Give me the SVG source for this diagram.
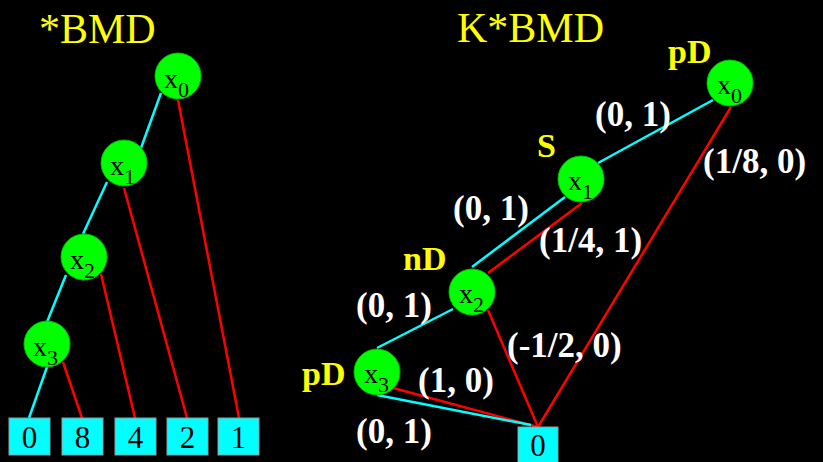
<svg xmlns="http://www.w3.org/2000/svg" width="823" height="462" viewBox="0 0 823 462">
<style>
.bg{fill:#000}
.cy{stroke:#00FFFF;stroke-width:2.5;fill:none}
.rd{stroke:#FF0000;stroke-width:2.5;fill:none}
.node{fill:#00FF00;stroke:#00C000;stroke-width:1}
.nt{font-family:"Liberation Serif","Times New Roman",serif;font-size:28px;fill:#000}
.sub{font-size:22px}
.box{fill:#00FFFF;stroke:#9a9a9a;stroke-width:1}
.bt{font-family:"Liberation Serif","Times New Roman",serif;font-size:31px;fill:#000;text-anchor:middle}
.title{font-family:"Liberation Serif","Times New Roman",serif;font-size:42px;fill:#FFFF00}
.lbl{font-family:"Liberation Serif","Times New Roman",serif;font-size:35px;font-weight:bold;fill:#FFFFFF}
.yl{font-family:"Liberation Serif","Times New Roman",serif;font-size:34px;font-weight:bold;fill:#FFFF00}
</style>
<rect class="bg" x="0" y="0" width="823" height="462"/>
<text class="title" x="39" y="43">*BMD</text>
<text class="title" x="457" y="42">K*BMD</text>
<g id="connectors">
<line class="cy" x1="161" y1="93" x2="141" y2="148"/>
<line class="rd" x1="178" y1="100" x2="239" y2="418"/>
<line class="cy" x1="107" y1="182" x2="83" y2="234"/>
<line class="rd" x1="124" y1="188" x2="187" y2="418"/>
<line class="cy" x1="66" y1="275" x2="47" y2="322"/>
<line class="rd" x1="101" y1="274" x2="135" y2="418"/>
<line class="cy" x1="47" y1="367" x2="29" y2="418"/>
<line class="rd" x1="63" y1="362" x2="82" y2="418"/>
<line class="cy" x1="713" y1="100" x2="598" y2="163"/>
<line class="rd" x1="731" y1="107" x2="538" y2="427"/>
<line class="cy" x1="565" y1="197" x2="472" y2="267"/>
<line class="rd" x1="582" y1="203" x2="488" y2="273"/>
<line class="cy" x1="453" y1="309" x2="377" y2="348"/>
<line class="rd" x1="488" y1="310" x2="538" y2="427"/>
<line class="rd" x1="393" y1="388" x2="538" y2="427"/>
<line class="cy" x1="377" y1="395" x2="531" y2="425"/>
</g>
<g id="L_x0"><circle class="node" cx="178" cy="76" r="23"/><text class="nt" x="164" y="88">x<tspan class="sub" dy="9">0</tspan></text></g>
<g id="L_x1"><circle class="node" cx="124" cy="163" r="23"/><text class="nt" x="110" y="175">x<tspan class="sub" dy="9">1</tspan></text></g>
<g id="L_x2"><circle class="node" cx="84" cy="257" r="23"/><text class="nt" x="70" y="269">x<tspan class="sub" dy="9">2</tspan></text></g>
<g id="L_x3"><circle class="node" cx="47" cy="344" r="23"/><text class="nt" x="33" y="356">x<tspan class="sub" dy="9">3</tspan></text></g>
<g id="L_t0"><rect class="box" x="9" y="418" width="41" height="37"/><text class="bt" x="29.5" y="448">0</text></g>
<g id="L_t8"><rect class="box" x="62" y="418" width="41" height="37"/><text class="bt" x="82.5" y="448">8</text></g>
<g id="L_t4"><rect class="box" x="115" y="418" width="41" height="37"/><text class="bt" x="135.5" y="448">4</text></g>
<g id="L_t2"><rect class="box" x="167" y="418" width="41" height="37"/><text class="bt" x="187.5" y="448">2</text></g>
<g id="L_t1"><rect class="box" x="218" y="418" width="41" height="37"/><text class="bt" x="238.5" y="448">1</text></g>
<g id="R_x0"><circle class="node" cx="730" cy="83" r="23"/><text class="nt" x="717" y="94">x<tspan class="sub" dy="9">0</tspan></text></g>
<g id="R_x1"><circle class="node" cx="581" cy="179" r="23"/><text class="nt" x="568" y="190">x<tspan class="sub" dy="9">1</tspan></text></g>
<g id="R_x2"><circle class="node" cx="472" cy="292" r="23"/><text class="nt" x="459" y="303">x<tspan class="sub" dy="9">2</tspan></text></g>
<g id="R_x3"><circle class="node" cx="377" cy="372" r="23"/><text class="nt" x="364" y="383">x<tspan class="sub" dy="9">3</tspan></text></g>
<g id="R_t0"><rect class="box" x="518" y="427" width="40" height="40"/><text class="bt" x="538" y="456">0</text></g>
<g id="labels">
<text class="yl" x="668" y="63">pD</text>
<text class="yl" x="537" y="157">S</text>
<text class="yl" x="403" y="270">nD</text>
<text class="yl" x="302" y="385">pD</text>
<text class="lbl" x="595" y="126">(0, 1)</text>
<text class="lbl" x="703" y="173">(1/8, 0)</text>
<text class="lbl" x="453" y="220">(0, 1)</text>
<text class="lbl" x="539" y="252">(1/4, 1)</text>
<text class="lbl" x="356" y="317">(0, 1)</text>
<text class="lbl" x="507" y="357">(-1/2, 0)</text>
<text class="lbl" x="418" y="392">(1, 0)</text>
<text class="lbl" x="356" y="443">(0, 1)</text>
</g>
</svg>
